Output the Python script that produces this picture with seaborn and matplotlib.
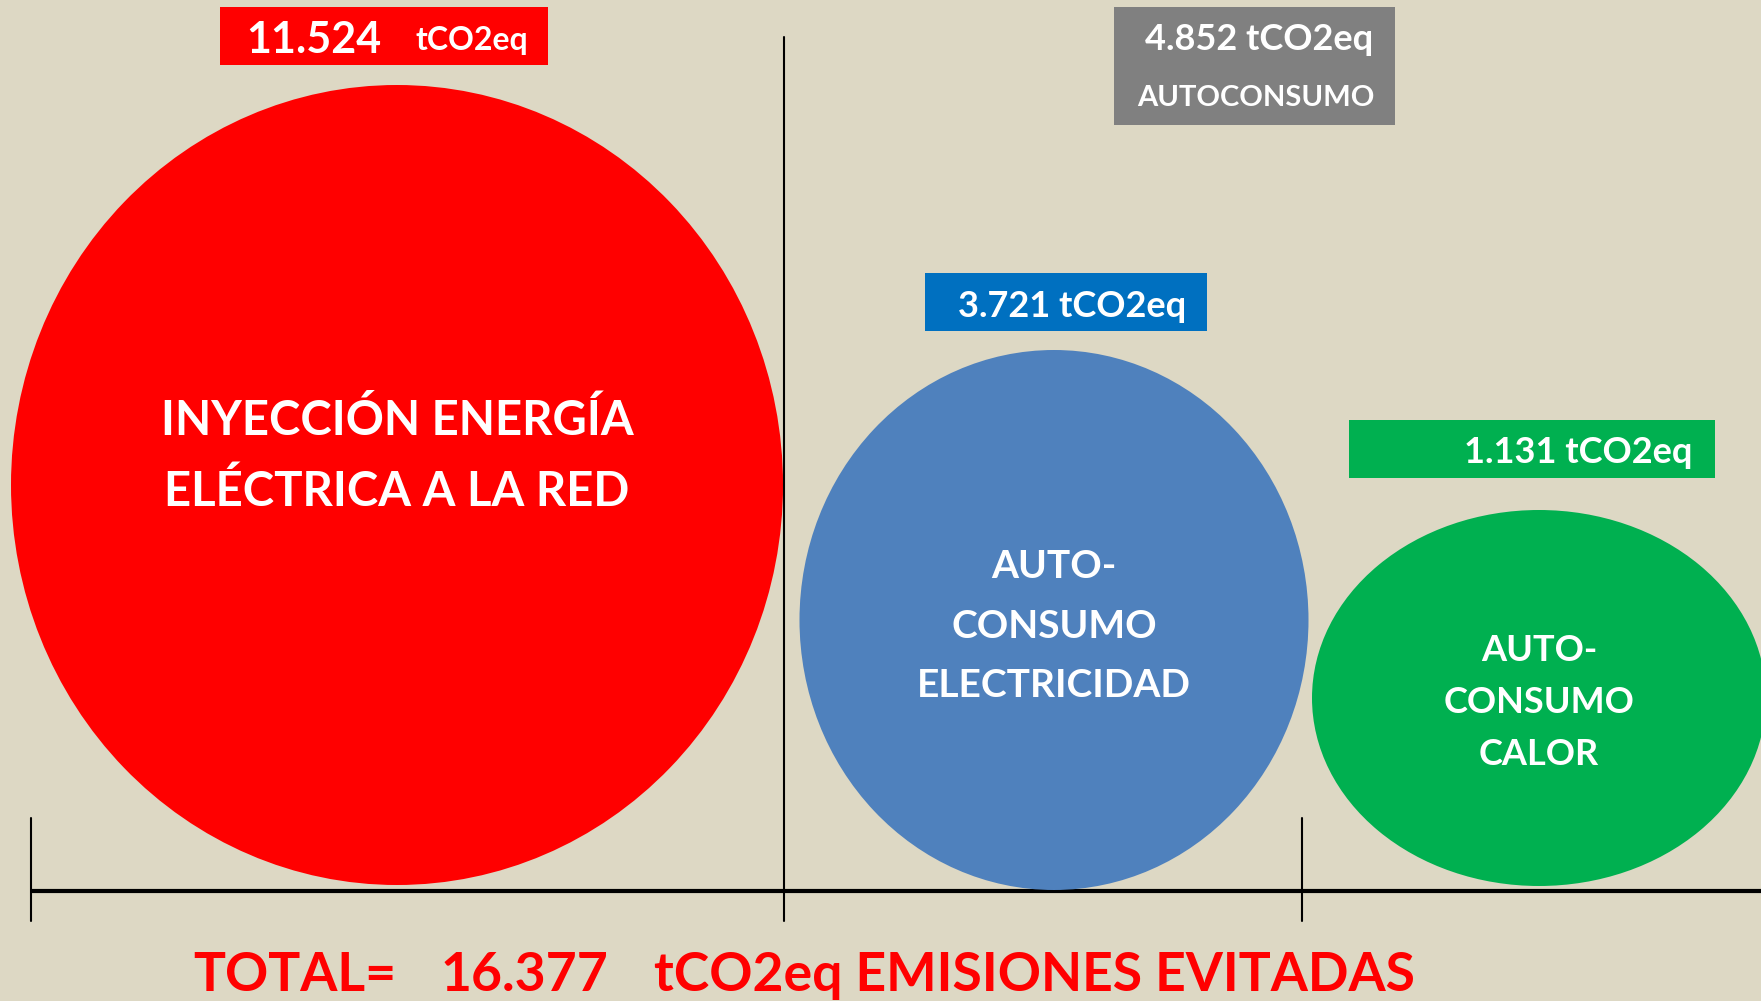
import matplotlib
matplotlib.use("Agg")
import matplotlib.pyplot as plt
from matplotlib.patches import Ellipse, Rectangle
import seaborn as sns

# emisiones evitadas (tCO2eq)
categorias = ["INYECCIÓN ENERGÍA\nELÉCTRICA A LA RED",
              "AUTO-\nCONSUMO\nELECTRICIDAD",
              "AUTO-\nCONSUMO\nCALOR"]
emisiones = [11524, 3721, 1131]
autoconsumo = 4852
total = 16377  # as printed in the original (unrounded sum)
grupo = "AUTOCONSUMO"
unidad = "tCO2eq"
titulo_total = "EMISIONES EVITADAS"

colores_burbuja = ["#FF0000", "#4F81BD", "#00B050"]
colores_caja = ["#FF0000", "#0070C0", "#00B050"]
color_grupo = "#808080"
fondo = "#DDD8C4"


def fmt(v):
    return f"{v:,}".replace(",", ".")


# layout in pixel units (figure 1761 x 1001)
burbujas = [  # cx, cy, w, h
    (397, 485, 772, 800),
    (1054, 620, 509, 540),
    (1539, 698, 454, 376),
]
texto_burbuja = [  # y of first baseline, line step, font size
    (435, 71, 34),
    (578, 59.5, 28),
    (661, 52, 26),
]
cajas = [  # x0, y0, x1, y1
    (220, 7, 548, 65),
    (925, 273, 1207, 331),
    (1349, 420, 1715, 478),
]
caja_grupo = (1114, 7, 1395, 125)

sns.set_theme(style="white", rc={"figure.facecolor": fondo, "axes.facecolor": fondo})
plt.rcParams["font.family"] = ["Lato", "DejaVu Sans"]

fig = plt.figure(figsize=(17.61, 10.01), dpi=100)
ax = fig.add_axes([0, 0, 1, 1])
ax.set_xlim(0, 1761)
ax.set_ylim(1001, 0)
ax.axis("off")

# axis-like lines
ax.plot([31, 1761], [891, 891], color="black", lw=3, solid_capstyle="butt", zorder=1)
ax.plot([784, 784], [37, 921], color="black", lw=1.5, zorder=3)
for x in (31, 1302):
    ax.plot([x, x], [818, 921], color="black", lw=1.5, zorder=1)

# bubbles and their texts
for (cx, cy, w, h), col, cat, (y0, step, fs) in zip(burbujas, colores_burbuja,
                                                    categorias, texto_burbuja):
    ax.add_patch(Ellipse((cx, cy), w, h, color=col, lw=0, zorder=2))
    for i, linea in enumerate(cat.split("\n")):
        ax.text(cx, y0 + i * step, linea, color="white", fontsize=fs,
                fontweight="bold", ha="center", va="baseline", zorder=4)

# value boxes
for (x0, y0, x1, y1), col in zip(cajas, colores_caja):
    ax.add_patch(Rectangle((x0, y0), x1 - x0, y1 - y0, color=col, lw=0, zorder=2))

# red box: number and unit at different sizes
ax.text(246, 53, fmt(emisiones[0]), color="white", fontsize=31, fontweight="bold",
        ha="left", va="baseline", zorder=4)
ax.text(416, 50, unidad, color="white", fontsize=23, fontweight="bold",
        ha="left", va="baseline", zorder=4)

ax.text(1186, 317, f"{fmt(emisiones[1])} {unidad}", color="white", fontsize=26,
        fontweight="bold", ha="right", va="baseline", zorder=4)
ax.text(1693, 463, f"{fmt(emisiones[2])} {unidad}", color="white", fontsize=26,
        fontweight="bold", ha="right", va="baseline", zorder=4)

# autoconsumo group box
gx0, gy0, gx1, gy1 = caja_grupo
ax.add_patch(Rectangle((gx0, gy0), gx1 - gx0, gy1 - gy0, color=color_grupo, lw=0, zorder=2))
ax.text(1373, 50, f"{fmt(autoconsumo)} {unidad}", color="white", fontsize=26,
        fontweight="bold", ha="right", va="baseline", zorder=4)
ax.text(1256, 106, grupo, color="white", fontsize=21, fontweight="bold",
        ha="center", va="baseline", zorder=4)

# total line, in three pieces
for x, s in zip((193, 441, 654), ("TOTAL=", fmt(total), f"{unidad} {titulo_total}")):
    ax.text(x, 991, s, color="#FF0000", fontsize=38.5, fontweight="bold",
            ha="left", va="baseline", zorder=4)

fig.savefig("out.png", dpi=100, facecolor=fig.get_facecolor())
